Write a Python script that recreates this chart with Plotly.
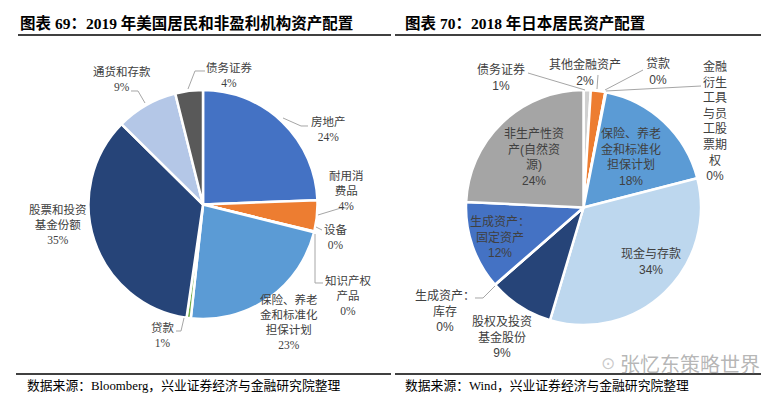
import plotly.graph_objects as go

W, H = 769, 398

# ---------------- data ----------------
us_categories = ["房地产", "耐用消费品", "设备", "知识产权产品", "保险、养老金和标准化担保计划",
                 "贷款", "股票和投资基金份额", "通货和存款", "债务证券"]
us_values = [24.4, 4.4, 0.05, 0.05, 22.8, 0.6, 35.1, 8.7, 3.9]
us_pct = ["24%", "4%", "0%", "0%", "23%", "1%", "35%", "9%", "4%"]
us_display = ["房地产", "耐用消<br>费品", "设备", "知识产权<br>产品", "保险、养老<br>金和标准化<br>担保计划",
              "贷款", "股票和投资<br>基金份额", "通货和存款", "债务证券"]
us_colors = ["#4472C4", "#ED7D31", "#A5A5A5", "#FFC000", "#5B9BD5",
             "#70AD47", "#264478", "#B4C7E7", "#595959"]

jp_categories = ["债务证券", "其他金融资产", "贷款", "金融衍生工具与员工股票期权",
                 "保险、养老金和标准化担保计划", "现金与存款", "股权及投资基金股份",
                 "生成资产：库存", "生成资产：固定资产", "非生产性资产（自然资源）"]
jp_values = [1.0, 2.0, 0.05, 0.05, 18.0, 33.8, 9.0, 0.05, 12.2, 24.4]
jp_pct = ["1%", "2%", "0%", "0%", "18%", "34%", "9%", "0%", "12%", "24%"]
jp_display = ["债务证券", "其他金融资产", "贷款", "金融<br>衍生<br>工具<br>与员<br>工股<br>票期<br>权",
              "保险、养老<br>金和标准化<br>担保计划", "现金与存款", "股权及投资<br>基金股份",
              "生成资产：<br>库存", "生成资产：<br>固定资产", "非生产性资<br>产(自然资<br>源)"]
jp_colors = ["#D0D0D0", "#ED7D31", "#A5A5A5", "#FFC000", "#5B9BD5",
             "#BDD7EE", "#264478", "#636363", "#4472C4", "#A5A5A5"]


def px(x):
    return x / W


def py(y):
    return 1 - y / H


def dom(cx, cy, r):
    return dict(x=[px(cx - r), px(cx + r)], y=[py(cy + r), py(cy - r)])


fig = go.Figure()
fig.add_trace(go.Pie(
    labels=us_categories, values=us_values, sort=False, direction="clockwise",
    rotation=0, textinfo="none", hoverinfo="label+percent",
    marker=dict(colors=us_colors, line=dict(color="white", width=2.5)),
    domain=dom(195, 196.5, 114.5), showlegend=False,
))
fig.add_trace(go.Pie(
    labels=jp_categories, values=jp_values, sort=False, direction="clockwise",
    rotation=0, textinfo="none", hoverinfo="label+percent",
    marker=dict(colors=jp_colors, line=dict(color="white", width=2.5)),
    domain=dom(575.5, 199.5, 117.5), showlegend=False,
))

CJK_SERIF = "Liberation Serif, Noto Sans CJK SC"
CJK_SANS = "Liberation Sans, Noto Sans CJK SC"
LABEL_COLOR = "#404040"

annotations = []


def lab(text, x, y, size=11.5, family=CJK_SERIF, color=LABEL_COLOR):
    annotations.append(dict(text=text, x=px(x), y=py(y), xref="paper", yref="paper",
                            showarrow=False, xanchor="center", yanchor="middle",
                            font=dict(size=size, family=family, color=color), align="center"))


# Left (US) label positions, per category index
us_pos = [(320, 121), (338, 182), (328, 229), (340, 287), (281, 314),
          (155, 327), (50, 216), (114, 71), (221, 66.5)]
for i, (x, y) in enumerate(us_pos):
    lab(us_display[i] + "<br>" + us_pct[i], x, y, size=11.5, family=CJK_SERIF)

jp_pos = [(493, 69), (577, 64), (650, 64), (707, 113), (623, 149),
          (643, 253), (494, 329), (437, 303), (492, 230), (526, 149)]
for i, (x, y) in enumerate(jp_pos):
    lab(jp_display[i] + "<br>" + jp_pct[i], x, y, size=12, family=CJK_SANS)

# Titles
annotations.append(dict(text="<b>图表 69：2019 年美国居民和非盈利机构资产配置</b>", x=px(10), y=py(15),
                        xref="paper", yref="paper", showarrow=False, xanchor="left", yanchor="middle",
                        font=dict(size=15.5, family=CJK_SERIF, color="black")))
annotations.append(dict(text="<b>图表 70：2018 年日本居民资产配置</b>", x=px(395), y=py(15),
                        xref="paper", yref="paper", showarrow=False, xanchor="left", yanchor="middle",
                        font=dict(size=15.5, family=CJK_SERIF, color="black")))
# Sources
annotations.append(dict(text="数据来源：Bloomberg，兴业证券经济与金融研究院整理", x=px(17), y=py(377),
                        xref="paper", yref="paper", showarrow=False, xanchor="left", yanchor="middle",
                        font=dict(size=12.8, family=CJK_SERIF, color="black")))
annotations.append(dict(text="数据来源：Wind，兴业证券经济与金融研究院整理", x=px(395), y=py(377),
                        xref="paper", yref="paper", showarrow=False, xanchor="left", yanchor="middle",
                        font=dict(size=12.8, family=CJK_SERIF, color="black")))
# Watermark
annotations.append(dict(text="张忆东策略世界", x=px(682), y=py(355),
                        xref="paper", yref="paper", showarrow=False, xanchor="center", yanchor="middle",
                        font=dict(size=20, family="Noto Sans CJK SC", color="rgba(120,120,120,0.55)")))
annotations.append(dict(text="⊙", x=px(600), y=py(355),
                        xref="paper", yref="paper", showarrow=False, xanchor="center", yanchor="middle",
                        font=dict(size=17, family="DejaVu Sans", color="rgba(150,150,150,0.5)")))

shapes = []


def hline(x0, x1, y, color="black", width=1.5):
    shapes.append(dict(type="line", xref="paper", yref="paper", x0=px(x0), x1=px(x1),
                       y0=py(y), y1=py(y), line=dict(color=color, width=width)))


hline(10, 383, 27)
hline(387, 765, 27)
hline(8, 383, 366)
hline(387, 765, 366)


def leader(pts):
    path = "M " + " L ".join(f"{px(x):.5f},{py(y):.5f}" for x, y in pts)
    shapes.append(dict(type="path", xref="paper", yref="paper", path=path,
                       line=dict(color="#A6A6A6", width=1)))


# US leaders
leader([(180, 81), (187, 63), (197, 63)])
leader([(137, 95), (130, 83), (123, 83)])
leader([(275, 110), (293, 118), (300, 118)])
leader([(310, 207), (333, 200), (340, 200)])
leader([(308, 219), (314, 222)])
leader([(307, 226), (307, 275), (315, 275)])
leader([(176, 310), (173, 323), (168, 323)])
# JP leaders
leader([(520, 65), (577, 82)])
leader([(590, 67), (589, 81)])
leader([(635, 62), (597, 82)])
leader([(693, 78), (598, 83)])
leader([(467, 290), (475, 290), (487, 278)])

fig.update_layout(width=W, height=H, autosize=False, margin=dict(l=0, r=0, t=0, b=0),
                  paper_bgcolor="white", plot_bgcolor="white",
                  annotations=annotations, shapes=shapes)

fig.write_html("out.html")
